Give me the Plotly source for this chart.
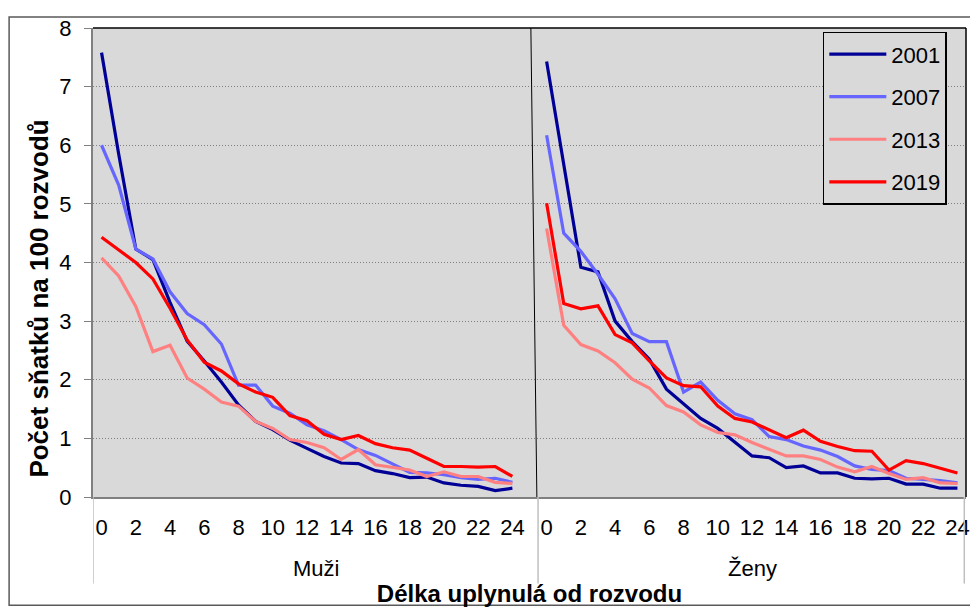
import plotly.graph_objects as go

# délka od rozvodu (roky) 0..24, pro muže i ženy
DELKA = list(range(25))
ROKY = ["2001", "2007", "2013", "2019"]
BARVY = ["#000096", "#6666FF", "#FF8080", "#FF0000"]

MUZI = {
    "2001": [7.58, 5.85, 4.23, 4.05, 3.32, 2.66, 2.32, 1.96, 1.57, 1.29, 1.15, 0.97, 0.83,
             0.69, 0.58, 0.57, 0.45, 0.40, 0.33, 0.34, 0.24, 0.20, 0.18, 0.11, 0.15],
    "2007": [6.00, 5.32, 4.23, 4.06, 3.50, 3.13, 2.94, 2.61, 1.91, 1.91, 1.55, 1.43, 1.23,
             1.13, 0.98, 0.81, 0.71, 0.57, 0.42, 0.41, 0.38, 0.33, 0.30, 0.32, 0.25],
    "2013": [4.08, 3.77, 3.25, 2.48, 2.59, 2.03, 1.84, 1.62, 1.55, 1.29, 1.17, 0.98, 0.93,
             0.84, 0.64, 0.81, 0.55, 0.51, 0.46, 0.35, 0.43, 0.35, 0.35, 0.25, 0.23],
    "2019": [4.43, 4.22, 4.00, 3.72, 3.22, 2.68, 2.30, 2.15, 1.93, 1.79, 1.70, 1.39, 1.30,
             1.07, 0.98, 1.05, 0.91, 0.84, 0.80, 0.66, 0.52, 0.52, 0.51, 0.52, 0.35],
}
ZENY = {
    "2001": [7.43, 5.65, 3.92, 3.84, 3.00, 2.65, 2.35, 1.84, 1.59, 1.34, 1.17, 0.93, 0.70,
             0.67, 0.50, 0.53, 0.41, 0.41, 0.32, 0.31, 0.32, 0.22, 0.22, 0.15, 0.15],
    "2007": [6.17, 4.50, 4.19, 3.80, 3.38, 2.79, 2.65, 2.65, 1.79, 1.96, 1.65, 1.42, 1.32,
             1.03, 0.98, 0.87, 0.80, 0.69, 0.53, 0.47, 0.45, 0.32, 0.30, 0.28, 0.24],
    "2013": [4.58, 2.93, 2.60, 2.49, 2.29, 2.01, 1.86, 1.56, 1.45, 1.23, 1.10, 1.06, 0.93,
             0.82, 0.70, 0.70, 0.64, 0.51, 0.43, 0.52, 0.40, 0.30, 0.33, 0.24, 0.23],
    "2019": [5.01, 3.30, 3.21, 3.26, 2.77, 2.63, 2.32, 2.03, 1.90, 1.88, 1.55, 1.34, 1.28,
             1.14, 1.01, 1.14, 0.95, 0.86, 0.79, 0.78, 0.46, 0.62, 0.57, 0.49, 0.41],
}
SKUPINY = ["Muži", "Ženy"]

FONT = "Liberation Sans, Arial, sans-serif"
GRAY = "#808080"
BG = "#D9D9D9"

# Ženy jsou na ose posunuté o 26 kategorií (jedna prázdná kategorie mezi skupinami)
OFF = len(DELKA) + 1
x_all = DELKA + [len(DELKA)] + [d + OFF for d in DELKA]

fig = go.Figure()
for rok, barva in zip(ROKY, BARVY):
    fig.add_trace(go.Scatter(
        x=x_all, y=MUZI[rok] + [None] + ZENY[rok], mode="lines", name=rok,
        legendgroup=rok, line=dict(color=barva, width=3.2),
    ))

tickvals = [d for d in DELKA if d % 2 == 0] + [d + OFF for d in DELKA if d % 2 == 0]
ticktext = [str(d) for d in DELKA if d % 2 == 0] * 2

# stránka má 8px okraj body, proto 970x604
fig.update_layout(
    width=970, height=604,
    paper_bgcolor="white", plot_bgcolor=BG,
    font=dict(family=FONT, color="black", size=22),
    margin=dict(l=85, r=8, t=12, b=115),
    showlegend=True,
    legend=dict(x=0.836, y=0.992, xanchor="left", yanchor="top",
                bgcolor=BG, bordercolor="black", borderwidth=1.5,
                font=dict(size=22), itemwidth=57, tracegroupgap=11,
                traceorder="grouped", entrywidth=62),
    xaxis=dict(range=[-0.5, 2 * len(DELKA) + 0.5], tickvals=tickvals, ticktext=ticktext,
               showgrid=False, zeroline=False, showline=True, linecolor=GRAY, linewidth=2,
               ticks="", ticklabelstandoff=10, tickfont=dict(size=22),
               title=dict(text="<b>Délka uplynulá od rozvodu</b>", font=dict(size=24),
                          standoff=46)),
    yaxis=dict(range=[0, 8], dtick=1, showgrid=True, gridcolor=GRAY, griddash="1px,2px",
               gridwidth=1, zeroline=False, showline=True, linecolor=GRAY, linewidth=2,
               ticks="outside", ticklen=7, tickcolor=GRAY, ticklabelstandoff=8,
               tickfont=dict(size=22), ticklabeloverflow="allow"),
)

# název osy y (v originále posunutý pod střed)
fig.add_annotation(x=-0.0616, y=0.4235, xref="paper", yref="paper", textangle=-90,
                   xanchor="center", yanchor="middle", showarrow=False,
                   text="<b>Počet sňatků na 100 rozvodů</b>", font=dict(size=26))

# rámeček grafu nahoře a vpravo, dělicí čára mezi skupinami
fig.add_shape(type="line", xref="paper", yref="paper", x0=0, x1=1, y0=1, y1=1,
              line=dict(color="black", width=1.5))
fig.add_shape(type="line", xref="paper", yref="paper", x0=1, x1=1, y0=0, y1=1,
              line=dict(color="black", width=1.5))
fig.add_shape(type="line", xref="x", yref="y", x0=25.08, x1=25.43, y0=8, y1=0,
              line=dict(color="black", width=1))

# svislé čáry mezi skupinami pod osou a popisky skupin
for xv in [-0.5, len(DELKA) + 0.5, 2 * len(DELKA) + 0.4]:
    fig.add_shape(type="line", xref="x", yref="paper", x0=xv, x1=xv, y0=0, y1=-0.1845,
                  line=dict(color="#BFBFBF", width=1.5))
for i, sk in enumerate(SKUPINY):
    fig.add_annotation(x=12.5 if i == 0 else OFF + 12, y=-0.153, xref="x", yref="paper",
                       yanchor="middle", text=sk, showarrow=False, font=dict(size=22))

# vnější rámeček
fig.add_shape(type="rect", xref="paper", yref="paper", x0=-0.0961, x1=1.0068,
              y0=-0.2306, y1=1.0236, line=dict(color="#5A5A5A", width=1.5))

fig.write_html("out.html")
